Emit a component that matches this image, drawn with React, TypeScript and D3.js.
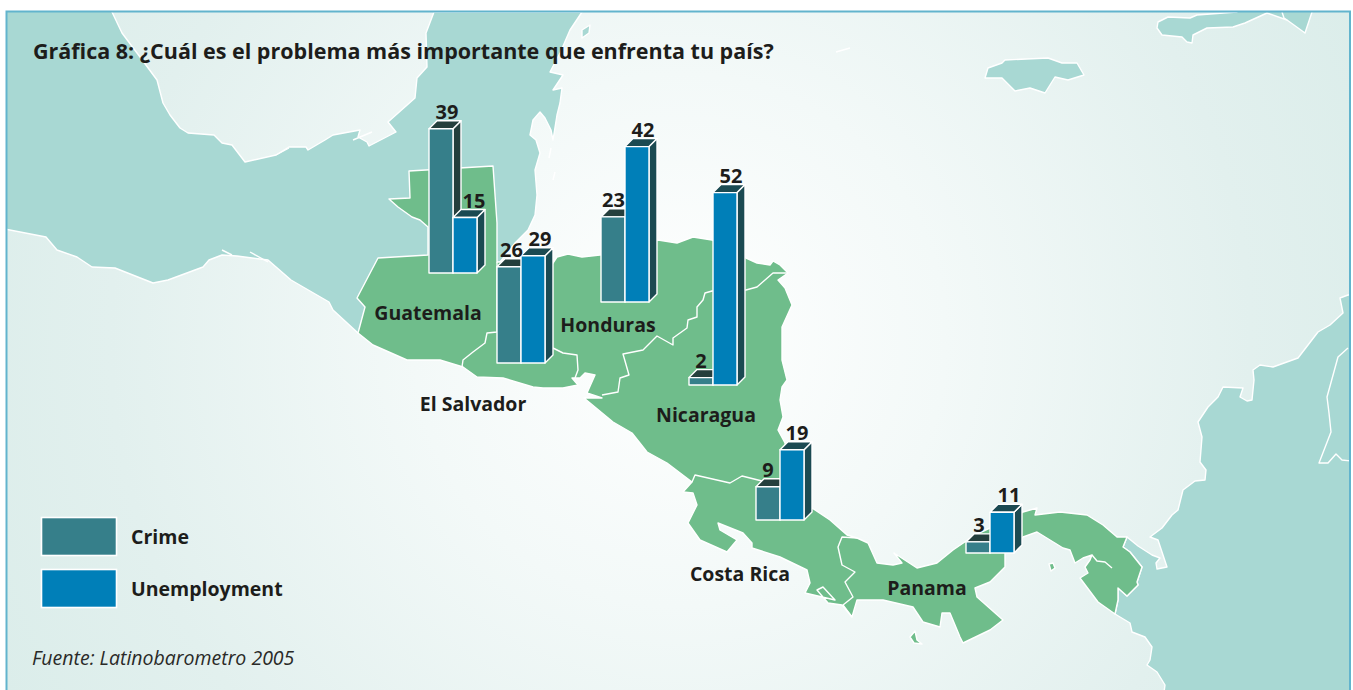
import React from "react";
import * as d3 from "d3";

// Data
const countries = ["Guatemala", "El Salvador", "Honduras", "Nicaragua", "Costa Rica", "Panama"];
const seriesNames = ["Crime", "Unemployment"];
const crime = [39, 26, 23, 2, 9, 3];
const unemployment = [15, 29, 42, 52, 19, 11];
const titleText = "Gráfica 8: ¿Cuál es el problema más importante que enfrenta tu país?";
const sourceText = "Fuente: Latinobarometro 2005";

const width = 1353;
const height = 690;
const ink = "#1d1d1b";
const landColor = "#a8d8d3";
const greenColor = "#6fbd8b";
const frontColors = ["#367f8a", "#007fb8"];
const topColors = ["#243f3d", "#1b4a52"];
const font = "'Open Sans', 'Noto Sans', sans-serif";

// Where each little 3D chart stands on the map
const groupLeft = [429, 497, 601, 689, 756, 966];
const groupBase = [273, 363, 302, 385, 520, 553];
const labelNudge = [[6, 9], [2.5, 7], [0.5, 6], [0, 6], [0, 5], [1, 7]];
const countryLabelPos = [[428, 320], [473, 411], [608, 332], [706, 422], [740, 581], [927, 595]];
const depth = 8;

// Map outlines, background only
const mexicoBelize: [number, number][] = [
  [0, 0], [112, 0], [112, 12], [122, 33], [140, 57], [157, 80], [163, 103], [170, 115], [180, 128], [188, 133],
  [214, 135], [222, 143], [232, 145], [245, 162], [276, 155], [289, 147], [306, 147], [308, 150], [325, 140],
  [333, 135], [360, 130], [358, 137], [367, 142], [369, 146], [396, 132], [388, 122], [415, 98], [417, 78],
  [427, 67], [426, 33], [434, 12], [582, 12], [570, 30], [560, 53], [550, 72], [563, 75], [553, 90], [562, 88],
  [560, 103], [557, 115], [553, 140], [551, 130], [545, 118], [540, 112], [533, 120], [530, 135], [536, 140],
  [540, 153], [535, 170], [537, 195], [535, 215], [528, 230], [515, 243], [500, 262], [400, 300], [358, 333],
  [333, 310], [329, 302], [291, 280], [268, 260], [237, 256], [222, 255], [209, 260], [203, 267], [168, 280],
  [153, 283], [115, 268], [92, 267], [77, 257], [57, 250], [46, 237], [0, 228],
];
const isthmus: [number, number][] = [
  [409, 171], [493, 166], [497, 223], [497, 262], [520, 262], [553, 263], [557, 257], [568, 254], [582, 257],
  [600, 255], [630, 250], [658, 240], [677, 243], [693, 237], [712, 240], [735, 250], [746, 258], [757, 263],
  [770, 265], [773, 261], [780, 265], [788, 273], [778, 280], [785, 288], [792, 305], [782, 327], [782, 360],
  [787, 380], [782, 387], [780, 400], [783, 417], [778, 430], [785, 443], [790, 490], [812, 508], [830, 520],
  [847, 535], [857, 538], [868, 543], [877, 563], [893, 565], [902, 563], [894, 553], [917, 568], [937, 563],
  [953, 550], [975, 535], [990, 528], [1023, 512], [1037, 508], [1035, 515], [1060, 512], [1087, 515],
  [1103, 525], [1117, 537], [1127, 537], [1123, 547], [1130, 552], [1142, 567], [1137, 582], [1138, 585],
  [1127, 596], [1118, 588], [1118, 600], [1115, 614], [1098, 602], [1080, 578], [1088, 573], [1085, 567],
  [1090, 560], [1092, 555], [1083, 558], [1075, 563], [1070, 550], [1063, 548], [1050, 540], [1037, 532],
  [1023, 537], [1005, 553], [1005, 567], [990, 582], [975, 588], [977, 597], [1003, 620], [990, 630],
  [963, 643], [960, 637], [950, 613], [942, 613], [940, 627], [923, 622], [913, 607], [883, 600], [857, 600],
  [852, 617], [842, 605], [828, 603], [817, 590], [823, 587], [835, 600], [805, 593], [810, 583], [807, 570],
  [780, 557], [752, 548], [752, 543], [743, 533], [718, 523], [720, 530], [737, 540], [727, 552], [700, 540],
  [688, 523], [697, 505], [693, 493], [683, 492], [692, 482], [667, 463], [647, 452], [632, 433], [613, 422],
  [584, 398], [602, 398], [587, 393], [595, 375], [585, 373], [580, 378], [572, 378], [578, 385], [563, 388],
  [543, 388], [533, 387], [503, 378], [477, 377], [463, 367], [440, 360], [407, 360], [373, 345], [358, 333],
  [365, 307], [357, 298], [378, 258], [428, 255], [428, 227], [420, 220], [412, 217], [398, 207], [389, 199],
  [410, 198],
];
const southAmerica: [number, number][] = [
  [1360, 295], [1348, 295], [1340, 298], [1343, 313], [1330, 325], [1318, 332], [1298, 358], [1273, 367],
  [1260, 365], [1253, 370], [1254, 380], [1252, 400], [1247, 401], [1240, 397], [1243, 388], [1223, 387],
  [1218, 397], [1208, 407], [1198, 422], [1202, 437], [1200, 462], [1206, 470], [1205, 480], [1195, 481],
  [1183, 490], [1178, 510], [1172, 515], [1162, 528], [1150, 537], [1158, 540], [1167, 567], [1157, 569],
  [1156, 563], [1160, 558], [1152, 555], [1138, 546], [1127, 537], [1123, 547], [1130, 552], [1142, 567],
  [1137, 582], [1138, 585], [1127, 596], [1118, 588], [1118, 600], [1115, 614], [1130, 623], [1132, 632],
  [1145, 637], [1152, 647], [1150, 660], [1147, 665], [1157, 672], [1165, 685], [1163, 700], [1360, 700],
];
const cuba: [number, number][] = [
  [1158, 22], [1168, 17], [1190, 18], [1197, 15], [1237, 12], [1237, 0], [1312, 0], [1312, 12], [1305, 33],
  [1287, 20], [1267, 13], [1245, 23], [1233, 27], [1207, 28], [1193, 35], [1192, 43], [1187, 42], [1182, 37],
  [1162, 35], [1157, 28],
];
const jamaica: [number, number][] = [
  [985, 78], [988, 68], [1002, 63], [1005, 60], [1048, 58], [1062, 63], [1077, 63], [1084, 75], [1068, 80],
  [1055, 77], [1045, 93], [1030, 88], [1015, 91], [1002, 78],
];
const cozumel: [number, number][] = [[590, 25], [589, 33], [582, 38], [582, 30]];
const coiba: [number, number][] = [[910, 637], [915, 631], [917, 640], [922, 644], [914, 643]];
const smallIsland: [number, number][] = [[1049, 564], [1053, 563], [1055, 568], [1051, 571]];

// White frontier lines
const borders: [number, number][][] = [
  [[497, 262], [497, 332], [487, 333], [485, 343], [473, 352], [463, 360], [462, 367]],
  [[553, 348], [563, 353], [577, 355], [578, 370], [575, 378]],
  [[602, 395], [618, 392], [620, 378], [629, 375], [623, 354], [643, 350], [657, 336], [673, 345], [673, 338],
    [687, 328], [688, 320], [697, 317], [697, 307], [703, 300], [705, 293], [712, 291], [746, 290], [757, 287],
    [773, 273], [788, 273]],
  [[692, 482], [695, 475], [730, 483], [742, 476], [762, 481]],
  [[857, 538], [842, 537], [838, 547], [842, 565], [855, 572], [845, 582], [853, 597], [843, 605], [852, 617]],
  [[1092, 555], [1097, 561], [1105, 562], [1112, 568]],
  [[1348, 348], [1338, 357], [1327, 397], [1329, 413], [1331, 432], [1319, 463], [1328, 463], [1336, 454], [1342, 460], [1360, 462]],
  [[1282, 12], [1284, 18], [1287, 20]],
  [[353, 140], [372, 132]],
  [[276, 155], [289, 148]],
  [[222, 250], [232, 255]],
  [[250, 252], [268, 262]],
  [[836, 52], [850, 48]],
  [[551, 148], [549, 158]],
  [[555, 172], [553, 180]],
];

const closedLine = d3.line().curve(d3.curveLinearClosed);
const openLine = d3.line();

const xScale = d3.scaleBand().domain(seriesNames).range([0, 48]);
const heightScale = d3.scaleLinear().domain([0, 52]).range([0, 192.4]);

function Bar({ value, left, base, series, labelShift }) {
  const x = left + xScale(seriesNames[series]);
  const w = xScale.bandwidth();
  const h = heightScale(value);
  const top = base - h;
  const topFace = closedLine([[x, top], [x + depth, top - depth], [x + w + depth, top - depth], [x + w, top]]);
  const sideFace = closedLine([[x + w, top], [x + w + depth, top - depth], [x + w + depth, base - depth], [x + w, base]]);
  return (
    <g stroke="#fff" strokeWidth={1.4} strokeLinejoin="round">
      <path d={sideFace} fill={topColors[series]} />
      <path d={topFace} fill={topColors[series]} />
      <rect x={x} y={top} width={w} height={h} fill={frontColors[series]} />
    </g>
  );
}

export default function App() {
  return (
    <svg
      width={width}
      height={height}
      style={{ position: "absolute", left: 0, top: 0, display: "block", fontFamily: font }}
    >
      <defs>
        <radialGradient id="sea" gradientUnits="userSpaceOnUse" cx={680} cy={340} r={760}>
          <stop offset="0" stopColor="#ffffff" />
          <stop offset="0.35" stopColor="#f3f9f8" />
          <stop offset="0.75" stopColor="#e2f0ee" />
          <stop offset="1" stopColor="#dbedea" />
        </radialGradient>
        <clipPath id="panel">
          <rect x={6} y={11} width={1344} height={680} />
        </clipPath>
      </defs>

      <g clipPath="url(#panel)">
        <rect x={6} y={11} width={1344} height={680} fill="url(#sea)" />
        <g stroke="#fff" strokeWidth={1.4} strokeLinejoin="round" fill={landColor}>
          {[mexicoBelize, southAmerica, cuba, jamaica, cozumel].map((pts, i) => (
            <path key={i} d={closedLine(pts)} />
          ))}
          {[isthmus, coiba, smallIsland].map((pts, i) => (
            <path key={i} d={closedLine(pts)} fill={greenColor} />
          ))}
          {borders.map((pts, i) => (
            <path key={i} d={openLine(pts)} fill="none" />
          ))}
        </g>
      </g>
      <path d="M6.5,690V11.5H1350V690" fill="none" stroke="#62b4cd" strokeWidth={2} />

      <text x={33} y={59} fontSize={21.5} fontWeight={700} fill={ink}>{titleText}</text>

      {countries.map((name, i) => (
        <g key={name}>
          <text x={countryLabelPos[i][0]} y={countryLabelPos[i][1]} fontSize={19.5} fontWeight={700} fill={ink} textAnchor="middle">
            {name}
          </text>
          <Bar value={crime[i]} left={groupLeft[i]} base={groupBase[i]} series={0} />
          <Bar value={unemployment[i]} left={groupLeft[i]} base={groupBase[i]} series={1} />
          {[crime[i], unemployment[i]].map((v, s) => (
            <text
              key={s}
              x={groupLeft[i] + xScale(seriesNames[s]) + xScale.bandwidth() / 2 + labelNudge[i][s]}
              y={groupBase[i] - heightScale(v) - 10}
              fontSize={20}
              fontWeight={700}
              fill={ink}
              textAnchor="middle"
            >
              {v}
            </text>
          ))}
        </g>
      ))}

      {seriesNames.map((name, i) => (
        <g key={name}>
          <rect x={41.5} y={517.5 + i * 52} width={75} height={38} fill={frontColors[i]} stroke="#fff" strokeWidth={1.6} />
          <text x={131} y={544 + i * 52} fontSize={19.5} fontWeight={700} fill={ink}>{name}</text>
        </g>
      ))}

      <text x={32} y={665} fontSize={19.5} fontStyle="italic" fill="#2a2a28">{sourceText}</text>
    </svg>
  );
}
